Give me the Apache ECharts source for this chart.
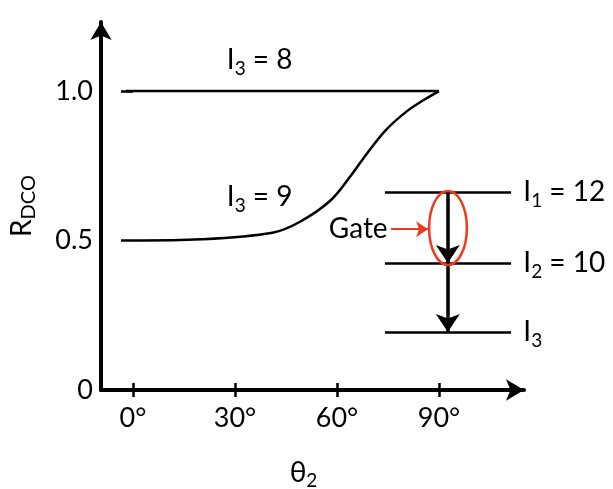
<!DOCTYPE html>
<html>
<head>
<meta charset="utf-8">
<script src="https://cdn.jsdelivr.net/npm/echarts@6/dist/echarts.min.js"></script>
<style>
  html, body { margin: 0; padding: 0; background: #fff; }
  #chart { width: 613px; height: 489px; }
</style>
</head>
<body>
<div id="chart"></div>
<script>
const FONT = 'Lato';
const RED = '#ee3a1e';

// axes
const xRange = [-9.4, 115];
const yRange = [0, 1.231];
const xTickValues = [0, 30, 60, 90];
const yTickValues = [0.5, 1.0];
const yLabelValues = [0, 0.5, 1.0];

// I3 = 8 : flat at 1.0
const theta8 = [-2, 90];
const rdco8 = [1.0, 1.0];

// I3 = 9 : rises from 0.5 to 1.0
const theta9 = [0, 20, 41, 49, 58, 64, 69, 74.5, 80.5, 85.5, 90];
const rdco9 = [0.50, 0.504, 0.526, 0.562, 0.633, 0.716, 0.794, 0.871, 0.932, 0.970, 1.0];

// level scheme
const levelSpan = [74.1, 111.2];
const levelEnergy = [0.662, 0.425, 0.194];
const transitionX = 92.6;
const gateBoxX = [87.1, 98.2];
const gateBoxY = [0.418, 0.666];
const gateArrowX = [75.9, 86.8];
const gateArrowY = 0.538;

// text annotations
const noteX = [27.6, 27.6, 114.8, 114.8, 114.8, 74.9];
const noteY = [1.104, 0.645, 0.662, 0.425, 0.194, 0.538];
const noteText = [
  '{m|I}{s|3}{m| = 8}',
  '{m|I}{s|3}{m| = 9}',
  '{m|I}{s|1}{m| = 12}',
  '{m|I}{s|2}{m| = 10}',
  '{m|I}{s|3}',
  '{m|Gate}'
];
const noteAlign = ['left', 'left', 'left', 'left', 'left', 'right'];

const RICH = {
  m: { fontFamily: FONT, fontSize: 28, lineHeight: 36, color: '#000' },
  s: { fontFamily: FONT, fontSize: 19, lineHeight: 19, verticalAlign: 'bottom', color: '#000' }
};

const zip = (a, b) => a.map((v, i) => [v, b[i]]);

const levelLines = levelEnergy.map(e => ({ coords: [[levelSpan[0], e], [levelSpan[1], e]] }));
const transitions = [
  { coords: [[transitionX, levelEnergy[0]], [transitionX, levelEnergy[1]]] },
  { coords: [[transitionX, levelEnergy[1]], [transitionX, levelEnergy[2]]] }
];

const chart = echarts.init(document.getElementById('chart'), null, { renderer: 'canvas' });

const tickStyle = { color: '#000', width: 2.5 };

chart.setOption({
  animation: false,
  backgroundColor: '#fff',
  grid: { left: 101, right: 89, top: 22, bottom: 99, containLabel: false, outerBoundsMode: 'none' },
  xAxis: [
    {
      type: 'value', min: xRange[0], max: xRange[1], position: 'bottom',
      axisLine: { show: true, onZero: false, symbol: ['none', 'arrow'], symbolSize: [16, 18],
        lineStyle: { color: '#000', width: 4 } },
      axisTick: { show: false },
      splitLine: { show: false },
      axisLabel: { show: true, customValues: xTickValues, margin: 15, color: '#000',
        fontFamily: FONT, fontSize: 27, formatter: v => v + '°' },
      name: '{t|θ}{s|2}',
      nameLocation: 'middle', nameGap: 66,
      nameTextStyle: { rich: {
        t: { fontFamily: FONT, fontSize: 28, lineHeight: 34, color: '#000' },
        s: { fontFamily: FONT, fontSize: 19, lineHeight: 19, verticalAlign: 'bottom', color: '#000' }
      }, padding: [0, 18, 0, 0] }
    },
    {
      type: 'value', min: xRange[0], max: xRange[1], position: 'bottom', offset: -7,
      axisLine: { show: false },
      axisTick: { show: true, customValues: xTickValues, length: 14, inside: false, lineStyle: tickStyle },
      axisLabel: { show: false },
      splitLine: { show: false }
    }
  ],
  yAxis: [
    {
      type: 'value', min: yRange[0], max: yRange[1], position: 'left',
      axisLine: { show: true, onZero: false, symbol: ['none', 'arrow'], symbolSize: [16, 18],
        lineStyle: { color: '#000', width: 4 } },
      axisTick: { show: false },
      splitLine: { show: false },
      axisLabel: { show: true, customValues: yLabelValues, margin: 8, color: '#000',
        fontFamily: FONT, fontSize: 27, formatter: v => (v === 0 ? '0' : v.toFixed(1)) },
      name: '{r|R}{s|DCO}',
      nameLocation: 'middle', nameGap: 62, nameRotate: 90,
      nameTextStyle: { rich: {
        r: { fontFamily: FONT, fontSize: 28, lineHeight: 34, color: '#000' },
        s: { fontFamily: FONT, fontSize: 20, lineHeight: 20, verticalAlign: 'bottom', color: '#000' }
      } }
    },
    {
      type: 'value', min: yRange[0], max: yRange[1], position: 'left', offset: -6,
      axisLine: { show: false },
      axisTick: { show: true, customValues: yTickValues, length: 12, inside: false, lineStyle: tickStyle },
      axisLabel: { show: false },
      splitLine: { show: false }
    }
  ],
  series: [
    {
      name: 'I3 = 8', type: 'line', data: zip(theta8, rdco8),
      showSymbol: false, lineStyle: { color: '#000', width: 2.5 }
    },
    {
      name: 'I3 = 9', type: 'line', data: zip(theta9, rdco9), smooth: 0.35,
      showSymbol: false, lineStyle: { color: '#000', width: 2.5 }
    },
    {
      name: 'levels', type: 'lines', coordinateSystem: 'cartesian2d',
      data: levelLines, symbol: 'none',
      lineStyle: { color: '#000', width: 2.5, opacity: 1 }
    },
    {
      name: 'transitions', type: 'lines', coordinateSystem: 'cartesian2d',
      data: transitions, symbol: ['none', 'arrow'], symbolSize: [14, 18],
      lineStyle: { color: '#000', width: 3.5, opacity: 1 }
    },
    {
      name: 'gate', type: 'custom', coordinateSystem: 'cartesian2d',
      data: [[gateBoxX[0], gateBoxY[0]]], clip: false,
      renderItem: (params, api) => {
        const a = api.coord([gateBoxX[0], gateBoxY[0]]);
        const b = api.coord([gateBoxX[1], gateBoxY[1]]);
        return {
          type: 'ellipse',
          shape: { cx: (a[0] + b[0]) / 2, cy: (a[1] + b[1]) / 2,
                   rx: Math.abs(b[0] - a[0]) / 2, ry: Math.abs(b[1] - a[1]) / 2 },
          style: { fill: 'none', stroke: RED, lineWidth: 2.5 }
        };
      }
    },
    {
      name: 'gate arrow', type: 'lines', coordinateSystem: 'cartesian2d',
      data: [{ coords: [[gateArrowX[0], gateArrowY], [gateArrowX[1], gateArrowY]] }],
      symbol: ['none', 'arrow'], symbolSize: [10, 12],
      lineStyle: { color: RED, width: 2, opacity: 1 }
    },
    {
      name: 'notes', type: 'custom', coordinateSystem: 'cartesian2d', clip: false,
      data: zip(noteX, noteY),
      renderItem: (params, api) => {
        const i = params.dataIndex;
        const p = api.coord([noteX[i], noteY[i]]);
        return {
          type: 'text', x: p[0], y: p[1],
          style: { text: noteText[i], rich: RICH, align: noteAlign[i], verticalAlign: 'middle' }
        };
      }
    }
  ]
});
</script>
</body>
</html>
